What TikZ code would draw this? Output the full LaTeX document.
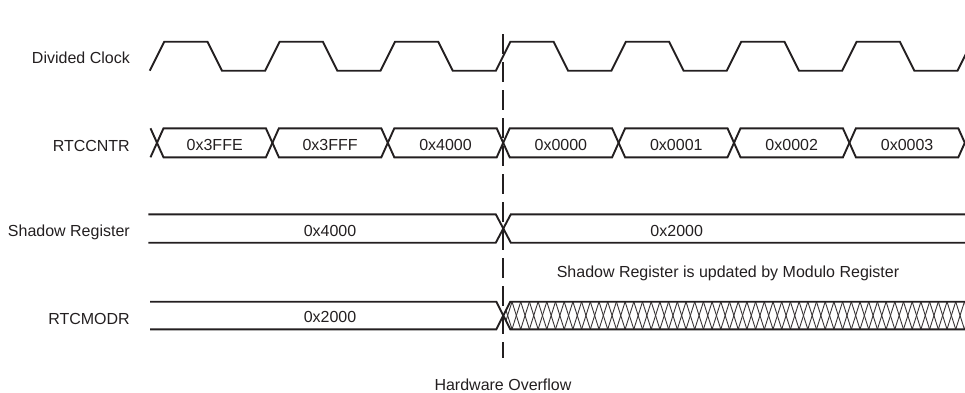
\documentclass[tikz,border=0pt]{standalone}
\usepackage{fontspec}
\setmainfont{Liberation Sans}
\definecolor{ink}{HTML}{231F20}
\tikzset{
  wave/.style={draw=ink, line width=1.9pt, line join=miter},
  lbl/.style={inner sep=0pt, font=\fontsize{16}{19}\selectfont, text=ink},
  hatchline/.style={draw=ink!90, line width=0.9pt},
  marker/.style={draw=ink, line width=2pt, dash pattern=on 20pt off 8pt},
}
\begin{document}
\begin{tikzpicture}[x=1pt,y=-1pt]
\useasboundingbox (0,0) rectangle (965,392);
\clip (0,0) rectangle (965,392);

% row labels
\node[lbl, anchor=base east] (lclk) at (130,63.3) {Divided Clock};
\node[lbl, anchor=base east] (lcnt) at (130,151) {RTCCNTR};
\node[lbl, anchor=base east] (lsh) at (130,236.7) {Shadow Register};
\node[lbl, anchor=base east] (lmod) at (130,324.3) {RTCMODR};

% divided clock
\draw[wave] (149.75,70.7)
  \foreach \k in {0,...,6} { -- ++(14.5,-29) -- ++(43.2,0) -- ++(14.5,29) -- ++(43.2,0) }
  -- ++(14.5,-29);

% RTCCNTR
\draw[wave] (150.5,128.3) -- (157,142.8) -- (150.5,157.3);
\foreach \k in {0,...,6} {
  \pgfmathsetmacro\a{157+115.4*\k}
  \pgfmathsetmacro\b{157+115.4*(\k+1)}
  \draw[wave] (\a,142.8) -- (\a+6.5,128.3) -- (\b-6.5,128.3) -- (\b,142.8)
     -- (\b-6.5,157.3) -- (\a+6.5,157.3) -- cycle;
}
\foreach \k/\t in {0/0x3FFE,1/0x3FFF,2/0x4000,3/0x0000,4/0x0001,5/0x0002,6/0x0003} {
  \node[lbl, anchor=base] (cnt\k) at ({214.7+115.4*\k},150.8) {\t};
}

% Shadow register
\draw[wave] (148.3,214.3) -- (495.8,214.3) -- (510.8,242.7) -- (965,242.7);
\draw[wave] (148.3,242.7) -- (495.8,242.7) -- (510.8,214.3) -- (965,214.3);
\node[lbl, anchor=base] (sh1) at (330,236.3) {0x4000};
\node[lbl, anchor=base] (sh2) at (676.7,236.3) {0x2000};
\node[lbl, anchor=base] (note) at (728,277.3) {Shadow Register is updated by Modulo Register};

% RTCMODR
\begin{scope}
  \clip (503.3,315.5) -- (510.3,301.7) -- (965,301.7) -- (965,329.3) -- (510.3,329.3) -- cycle;
  \foreach \i in {0,...,56} {
    \draw[hatchline] ({494.6+8.7*\i},301.7) -- ++(8.7,27.6);
    \draw[hatchline] ({494.6+8.7*\i},301.7) -- ++(-8.7,27.6);
  }
\end{scope}
\draw[wave] (150,301.7) -- (496.3,301.7) -- (510.3,329.3) -- (965,329.3);
\draw[wave] (150,329.3) -- (496.3,329.3) -- (510.3,301.7) -- (965,301.7);
\node[lbl, anchor=base] (mod1) at (330,322.5) {0x2000};

% overflow marker
\coordinate (mtop) at (503.3,34);
\coordinate (mbot) at (503.3,358);
\draw[marker] (mtop) -- (mbot);
\node[lbl, anchor=base] (hw) at (503,390) {Hardware Overflow};
\end{tikzpicture}
\end{document}
